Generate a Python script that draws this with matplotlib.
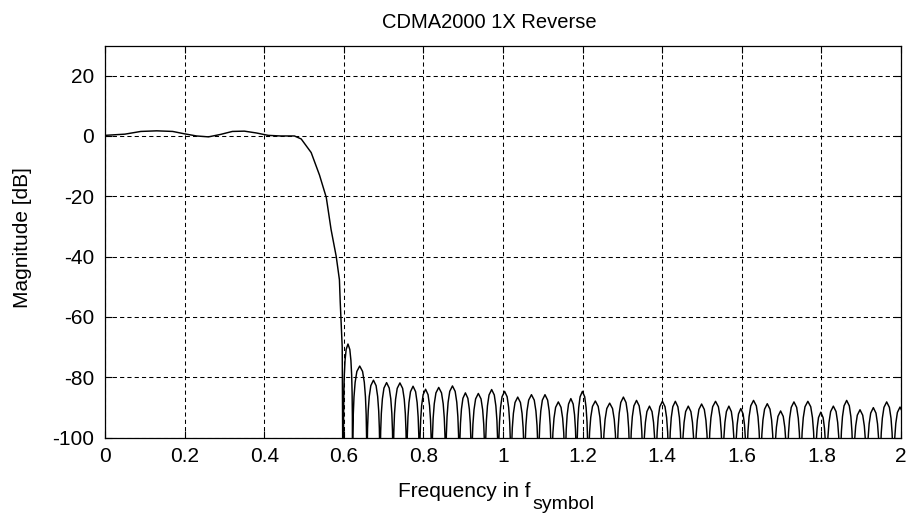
import numpy as np
import matplotlib
matplotlib.use("Agg")
import matplotlib.pyplot as plt

plt.rcParams['font.family'] = ['Liberation Sans', 'DejaVu Sans']
plt.rcParams['axes.unicode_minus'] = False

# Passband + transition
pass_freq = [0.0, 0.05, 0.09, 0.13, 0.17, 0.20, 0.23, 0.26, 0.29, 0.32, 0.35, 0.38, 0.41, 0.44, 0.476,
             0.493, 0.518, 0.539, 0.556, 0.568, 0.581, 0.589, 0.591, 0.593, 0.596]
pass_db = [0.2, 0.6, 1.5, 1.7, 1.5, 0.7, 0.0, -0.3, 0.5, 1.5, 1.6, 1.0, 0.2, 0.0, 0.0,
           -1.0, -5.5, -13.0, -20.4, -31.0, -40.0, -47.7, -55.0, -61.0, -70.0]

# Stopband: null frequencies and lobe peak levels
null_freq = [0.599, 0.622, 0.658, 0.691, 0.724, 0.758, 0.790, 0.821, 0.856, 0.890,
             0.921, 0.955, 0.988, 1.020, 1.054, 1.089, 1.122, 1.156, 1.185, 1.214,
             1.250, 1.286, 1.319, 1.352, 1.384, 1.417, 1.449, 1.482, 1.516, 1.552,
             1.583, 1.612, 1.647, 1.681, 1.714, 1.748, 1.784, 1.813, 1.847, 1.880,
             1.914, 1.947, 1.981, 2.014]
peak_db = [-69.0, -76.3, -81.0, -81.8, -81.9, -83.0, -84.0, -83.4, -82.9, -85.2,
           -85.4, -84.1, -84.7, -86.6, -85.8, -85.8, -88.2, -87.1, -84.7, -87.9,
           -88.6, -86.6, -87.7, -89.6, -88.0, -88.0, -89.6, -88.9, -88.0, -89.6,
           -90.4, -87.7, -88.8, -91.2, -88.2, -88.0, -91.6, -89.6, -87.7, -90.8,
           -90.1, -88.2, -89.9]

# Lobe outline template (position within lobe, level relative to peak), estimated
lobe_pos = [0.0, 0.02, 0.05, 0.10, 0.18, 0.30, 0.50, 0.70, 0.82, 0.90, 0.95, 0.98]
lobe_rel = [-80.0, -24.0, -16.1, -10.2, -5.4, -1.8, 0.0, -1.8, -5.4, -10.2, -16.1, -24.0]

x_ticks = [0, 0.2, 0.4, 0.6, 0.8, 1.0, 1.2, 1.4, 1.6, 1.8, 2.0]
x_ticklabels = ['0', '0.2', '0.4', '0.6', '0.8', '1', '1.2', '1.4', '1.6', '1.8', '2']
y_ticks = [-100, -80, -60, -40, -20, 0, 20]

freq = list(pass_freq)
mag = list(pass_db)
for i, pk in enumerate(peak_db):
    a, b = null_freq[i], null_freq[i + 1]
    for p, r in zip(lobe_pos, lobe_rel):
        freq.append(a + p * (b - a))
        mag.append(pk + r)
freq.append(null_freq[-1])
mag.append(-180.0)

W, H = 913, 518
fig = plt.figure(figsize=(W / 100, H / 100), dpi=100)
ax = fig.add_axes([105 / W, 1 - 437.5 / H, (901 - 105) / W, (437.5 - 45.5) / H])
ax.plot(freq, mag, color='black', lw=1.05)

ax.set_xlim(0, 2)
ax.set_ylim(-100, 30)
ax.set_xticks(x_ticks)
ax.set_xticklabels(x_ticklabels)
ax.set_yticks(y_ticks)
ax.grid(True, color='black', linestyle=(0, (4, 3)), linewidth=0.75)
ax.tick_params(direction='in', length=5, width=0.8, top=True, right=True,
               labelsize=15, colors='black')
ax.tick_params(axis='x', pad=7)
ax.tick_params(axis='y', pad=8)
for s in ax.spines.values():
    s.set_linewidth(0.9)
    s.set_color('black')

fig.text(489 / W, 1 - 22 / H, 'CDMA2000 1X Reverse', fontsize=14.5, ha='center', va='center')
fig.text(22 / W, 1 - 238 / H, 'Magnitude [dB]', fontsize=15, ha='center', va='center',
         rotation=90)
fig.text(531 / W, 1 - 497 / H, 'Frequency in f', fontsize=15, ha='right', va='baseline')
fig.text(532 / W, 1 - 509 / H, 'symbol', fontsize=14, ha='left', va='baseline')

fig.savefig('out.png', dpi=100, facecolor='white')
